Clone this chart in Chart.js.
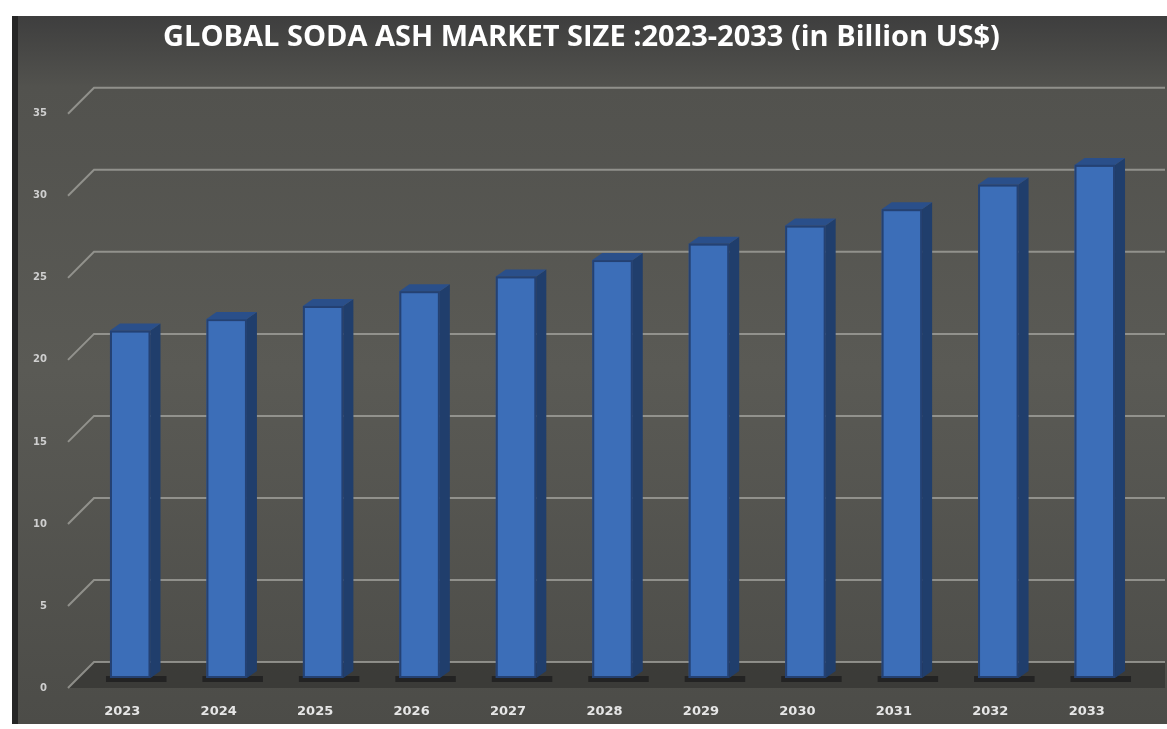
<!DOCTYPE html>
<html>
<head>
<meta charset="utf-8">
<title>Global Soda Ash Market Size</title>
<script src="https://cdn.jsdelivr.net/npm/chart.js@4.4.1/dist/chart.umd.min.js"></script>
<style>
  html, body { margin: 0; padding: 0; background: #ffffff; }
  #wrap { width: 1167px; height: 729px; }
</style>
</head>
<body>
<div id="wrap"><canvas id="sodaChart" width="1167" height="729"></canvas></div>
<script>
const YEARS = ['2023', '2024', '2025', '2026', '2027', '2028', '2029', '2030', '2031', '2032', '2033'];
const MARKET_SIZE = [20.2, 20.9, 21.7, 22.6, 23.5, 24.5, 25.5, 26.6, 27.6, 29.1, 30.3];
const Y_MIN = 0;
const Y_MAX = 35;
const Y_STEP = 5;

const BAR_FRONT = '#3c6eb8';
const BAR_SIDE = '#203e6c';
const BAR_TOP = '#2a4f8a';

// 3d look: back wall offset and bar depth
const WALL_DY = 26;
const BAR_DX = 10;
const BAR_DY = -7;
const BAR_FOOT = 16;

// dark panel behind everything
const panelPlugin = {
  id: 'panel',
  beforeDraw(chart) {
    const ctx = chart.ctx;
    const g = ctx.createLinearGradient(0, 16, 0, 724);
    g.addColorStop(0, '#3e3e3e');
    g.addColorStop(0.1, '#52524e');
    g.addColorStop(0.5, '#5a5a55');
    g.addColorStop(1, '#4c4c48');
    ctx.save();
    ctx.fillStyle = g;
    ctx.fillRect(12, 16, 1155, 708);
    ctx.fillStyle = '#262626';
    ctx.fillRect(12, 16, 6, 708);
    ctx.restore();
  }
};

// back wall grid with the little diagonal to the front labels, plus floor
const wallPlugin = {
  id: 'wall',
  beforeDatasetsDraw(chart) {
    const ctx = chart.ctx;
    const ys = chart.scales.y;
    const area = chart.chartArea;
    const x0 = area.left - 14;
    const x1 = area.left + 12;
    ctx.save();

    // floor
    const yb = ys.getPixelForValue(0);
    ctx.fillStyle = 'rgba(38,38,36,0.45)';
    ctx.beginPath();
    ctx.moveTo(x1, yb);
    ctx.lineTo(1165, yb);
    ctx.lineTo(1165, yb + WALL_DY);
    ctx.lineTo(x0, yb + WALL_DY);
    ctx.closePath();
    ctx.fill();

    ctx.strokeStyle = 'rgba(165,165,160,0.75)';
    ctx.lineWidth = 2;
    for (let v = Y_MIN; v <= Y_MAX; v += Y_STEP) {
      const y = ys.getPixelForValue(v);
      ctx.beginPath();
      ctx.moveTo(x0, y + WALL_DY);
      ctx.lineTo(x1, y);
      ctx.lineTo(1165, y);
      ctx.stroke();
    }
    ctx.restore();
  },
  afterDatasetsDraw(chart) {
    const ctx = chart.ctx;
    const meta = chart.getDatasetMeta(0);
    ctx.save();
    meta.data.forEach(bar => {
      const p = bar.getProps(['x', 'y', 'base', 'width']);
      const l = p.x - p.width / 2;
      const r = p.x + p.width / 2;
      const bottom = p.base + BAR_FOOT;

      // shadow on the floor
      ctx.fillStyle = 'rgba(20,20,22,0.6)';
      ctx.fillRect(l - 4, bottom - 2, p.width + BAR_DX + 10, 6);

      // foot of the column down to the front of the floor
      ctx.fillStyle = BAR_FRONT;
      ctx.fillRect(l, p.base, p.width, BAR_FOOT);

      // side face
      ctx.fillStyle = BAR_SIDE;
      ctx.beginPath();
      ctx.moveTo(r, p.y);
      ctx.lineTo(r + BAR_DX, p.y + BAR_DY);
      ctx.lineTo(r + BAR_DX, bottom + BAR_DY);
      ctx.lineTo(r, bottom);
      ctx.closePath();
      ctx.fill();

      // top face
      ctx.fillStyle = BAR_TOP;
      ctx.beginPath();
      ctx.moveTo(l, p.y);
      ctx.lineTo(r, p.y);
      ctx.lineTo(r + BAR_DX, p.y + BAR_DY);
      ctx.lineTo(l + BAR_DX, p.y + BAR_DY);
      ctx.closePath();
      ctx.fill();

      // slight dark rim on the front face
      ctx.strokeStyle = 'rgba(25,45,85,0.7)';
      ctx.lineWidth = 2;
      ctx.strokeRect(l + 1, p.y + 1, p.width - 2, bottom - p.y - 2);
    });
    ctx.restore();
  }
};

const data = {
  labels: YEARS,
  datasets: [{
    label: 'Market size (Billion US$)',
    data: MARKET_SIZE,
    backgroundColor: BAR_FRONT,
    borderWidth: 0,
    barPercentage: 0.42,
    categoryPercentage: 1.0
  }]
};

const config = {
  type: 'bar',
  data: data,
  options: {
    responsive: false,
    animation: false,
    layout: {
      padding: { top: 14, left: 20, right: 24, bottom: 10 }
    },
    plugins: {
      legend: { display: false },
      tooltip: { enabled: false },
      title: {
        display: true,
        text: 'GLOBAL SODA ASH MARKET SIZE :2023-2033 (in Billion US$)',
        color: '#ffffff',
        font: { family: 'Open Sans', size: 29, weight: 'bold' },
        padding: { top: 6, bottom: 33 }
      }
    },
    scales: {
      x: {
        grid: { display: false, drawTicks: false },
        border: { display: false },
        afterFit(scale) { scale.height = 57; },
        ticks: {
          color: '#e6e6e6',
          font: { family: 'DejaVu Sans', size: 13, weight: 'bold' },
          padding: 42,
          labelOffset: -8,
          maxRotation: 0,
          autoSkip: false
        }
      },
      y: {
        min: Y_MIN,
        max: Y_MAX,
        grid: { display: false, drawTicks: false },
        border: { display: false },
        afterFit(scale) { scale.width = 62; },
        ticks: {
          stepSize: Y_STEP,
          color: '#cfcfcf',
          font: { family: 'DejaVu Sans', size: 10, weight: 'bold' },
          padding: 35,
          labelOffset: WALL_DY
        }
      }
    }
  },
  plugins: [panelPlugin, wallPlugin]
};

const chart = new Chart(document.getElementById('sodaChart').getContext('2d'), config);
</script>
</body>
</html>
